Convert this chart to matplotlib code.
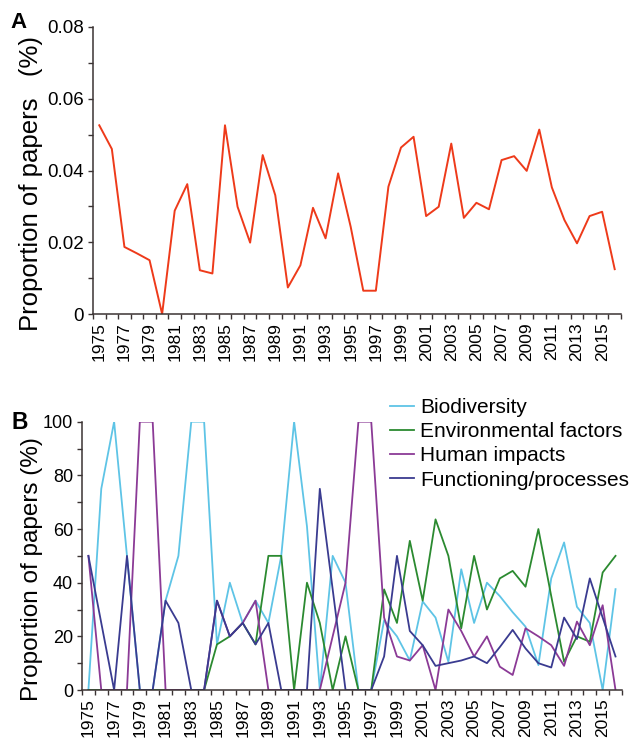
import numpy as np
import matplotlib
matplotlib.use("Agg")
import matplotlib.pyplot as plt

plt.rcParams['font.family'] = ['Liberation Sans', 'DejaVu Sans']

years = list(range(1975, 2017))

# panel A: share of all papers
total_share = [0.0526, 0.0460, 0.0187, 0.0169, 0.0150, 0.0000, 0.0288, 0.0362, 0.0122, 0.0113,
               0.0526, 0.0299, 0.0199, 0.0443, 0.0331, 0.0074, 0.0136, 0.0296, 0.0211, 0.0392,
               0.0243, 0.0065, 0.0065, 0.0355, 0.0464, 0.0494, 0.0273, 0.0299, 0.0475, 0.0268,
               0.0310, 0.0292, 0.0429, 0.0440, 0.0399, 0.0514, 0.0353, 0.0262, 0.0197, 0.0273,
               0.0285, 0.0125]

# panel B: share by topic
biodiversity = [0, 75, 100, 50, 0, 0, 33.3, 50, 100, 100,
                17, 40, 25, 33.3, 25, 50, 100, 61, 0, 50,
                40, 0, 0, 26, 20, 11, 33, 27, 10.5, 45,
                25, 40, 35, 29, 23.6, 9.3, 41.6, 55, 31, 25,
                0, 37.6]
environmental = [0, 0, 0, 0, 0, 0, 0, 0, 0, 0,
                 17, 20, 25, 17, 50, 50, 0, 40, 25, 0,
                 20, 0, 0, 37.5, 25, 55.6, 33.3, 63.6, 50, 23,
                 50, 30, 41.6, 44.4, 38.5, 60, 35, 10.5, 20, 18,
                 43.8, 50]
human = [50, 0, 0, 0, 100, 100, 0, 0, 0, 0,
         33.3, 20, 25, 33.3, 0, 0, 0, 0, 0, 20,
         40, 100, 100, 27, 12.5, 11, 16.7, 0, 30, 22,
         12.5, 20, 8.7, 5.6, 23, 20, 16.7, 9, 25.5, 16.7,
         31.6, 0]
functioning = [50, 25, 0, 50, 0, 0, 33.3, 25, 0, 0,
               33.3, 20, 25, 17, 25, 0, 0, 0, 75, 37.5,
               0, 0, 0, 12.5, 50, 22, 16.7, 9, 10, 11,
               12.5, 10, 16, 22.4, 15.5, 10, 8.4, 27, 19, 41.6,
               27, 12.5]

series_names = ['Biodiversity', 'Environmental factors', 'Human impacts', 'Functioning/processes']
series_colors = ['#5ec4e6', '#2b8a30', '#8b3a96', '#3a3b90']

axis_col = '#3b3333'
x = np.arange(len(years))


def style_axis(ax, tick_size):
    for side in ['top', 'right']:
        ax.spines[side].set_visible(False)
    for side in ['left', 'bottom']:
        ax.spines[side].set_color(axis_col)
        ax.spines[side].set_linewidth(1.1)
    ax.set_xlim(-0.5, len(years) - 0.5)
    # ticks on category boundaries, labels on category centres
    ax.set_xticks(np.arange(-0.5, len(years), 1))
    ax.set_xticklabels([])
    ax.set_xticks(x[::2], minor=True)
    ax.set_xticklabels([str(y) for y in years[::2]], minor=True, rotation=90, fontsize=12.5)
    ax.tick_params(axis='x', which='major', direction='out', length=3.5, width=1.0, color=axis_col)
    ax.tick_params(axis='x', which='minor', length=0, pad=6)
    ax.tick_params(axis='y', which='both', direction='out', length=3.5, width=1.0,
                   color=axis_col, labelsize=tick_size, pad=3)


fig = plt.figure(figsize=(6.36, 7.41), dpi=100)

# ---- panel A
axA = fig.add_axes([0.1462, 0.5762, 0.8302, 0.3874])
axA.plot(x, total_share, color='#ee3a1a', lw=1.4)
axA.set_ylim(0, 0.08)
axA.set_yticks([0, 0.02, 0.04, 0.06, 0.08])
axA.set_yticklabels(['0', '0.02', '0.04', '0.06', '0.08'])
axA.set_yticks(np.arange(0, 0.081, 0.01), minor=True)
style_axis(axA, 13.5)
axA.set_ylabel('Proportion of papers   (%)', fontsize=18.5)
axA.yaxis.set_label_coords(-0.095, 0.455)
fig.text(0.016, 0.984, 'A', fontsize=16, fontweight='bold', va='top')

# ---- panel B
axB = fig.add_axes([0.1289, 0.0688, 0.849, 0.3621])
for vals, name, col in zip([biodiversity, environmental, human, functioning],
                           series_names, series_colors):
    axB.plot(x, vals, color=col, lw=1.3, label=name)
axB.set_ylim(0, 100)
axB.set_yticks(np.arange(0, 101, 20))
axB.set_yticks(np.arange(0, 101, 10), minor=True)
style_axis(axB, 13)
axB.set_ylabel('Proportion of papers (%)', fontsize=17.5)
axB.yaxis.set_label_coords(-0.073, 0.45)
fig.text(0.018, 0.446, 'B', fontsize=16.5, fontweight='bold', va='top')

axB.legend(loc='upper left', bbox_to_anchor=(390 / 636, 1 - 398 / 741),
           bbox_transform=fig.transFigure, frameon=False, fontsize=15,
           handlelength=1.15, handletextpad=0.3, labelspacing=0.25, borderpad=0,
           borderaxespad=0)

fig.savefig('out.png', dpi=100)
